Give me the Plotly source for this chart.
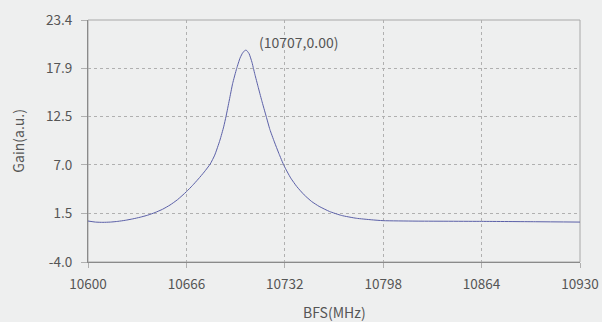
import plotly.graph_objects as go

bfs = [10600, 10605, 10610, 10615, 10620, 10625, 10630, 10635, 10640, 10645,
       10650, 10655, 10660, 10666, 10670, 10674, 10678, 10682, 10685, 10688.5,
       10691, 10692.6, 10694.8, 10697, 10699.7, 10702, 10704, 10706, 10708, 10710,
       10711, 10712, 10714, 10716.5, 10719.5, 10722, 10725, 10728, 10731.5, 10736,
       10740, 10745, 10750, 10755, 10762, 10770, 10780, 10790, 10798, 10820,
       10864, 10900, 10930]
gain = [0.64, 0.52, 0.49, 0.52, 0.6, 0.72, 0.88, 1.07, 1.3, 1.6,
        1.97, 2.45, 3.05, 3.96, 4.65, 5.4, 6.2, 7.1, 8.1, 9.8,
        11.3, 12.5, 14.34, 16.2, 17.9, 19.1, 19.75, 20.0, 19.6, 18.6,
        17.9, 17.2, 15.9, 14.3, 12.5, 11.0, 9.6, 8.3, 6.9, 5.5,
        4.55, 3.6, 2.85, 2.3, 1.72, 1.27, 0.95, 0.78, 0.68, 0.63,
        0.6, 0.56, 0.52]

x_ticks = [10600, 10666, 10732, 10798, 10864, 10930]
y_ticks = [-4.0, 1.5, 7.0, 12.5, 17.9, 23.4]
y_tick_text = ["-4.0", "1.5", "7.0", "12.5", "17.9", "23.4"]
peak_label = "(10707,0.00)"
x_title = "BFS(MHz)"
y_title = "Gain(a.u.)"

FONT = "Noto Sans CJK SC"
TXT = "#555555"

fig = go.Figure()
fig.add_trace(go.Scatter(x=bfs, y=gain, mode="lines",
                         line=dict(color="#5b60a8", width=1, shape="spline", smoothing=0.5),
                         hoverinfo="skip", showlegend=False))

fig.add_annotation(x=10741.5, y=20.9, text=peak_label, showarrow=False,
                   font=dict(family=FONT, size=14, color=TXT))

fig.add_annotation(xref="paper", yref="paper", x=0.5, y=-0.205, yanchor="middle",
                   text=x_title, showarrow=False, font=dict(family=FONT, size=14, color=TXT))
fig.add_annotation(xref="paper", yref="paper", x=-0.143, xanchor="center", y=0.5,
                   text=y_title, textangle=-90, showarrow=False,
                   font=dict(family=FONT, size=14, color=TXT))

fig.add_shape(type="rect", xref="paper", yref="paper", x0=0, y0=0, x1=1, y1=1,
              line=dict(color="#a8a8a8", width=1), layer="below")

fig.update_layout(
    width=602, height=322,
    margin=dict(l=88, r=22, t=20, b=60, autoexpand=False),
    paper_bgcolor="#eeefef", plot_bgcolor="#eeefef",
    font=dict(family=FONT, size=13, color=TXT),
    xaxis=dict(range=[10600, 10930], tickvals=x_ticks, ticktext=[str(v) for v in x_ticks],
               showgrid=True, gridcolor="#b0b0b0", griddash="dot", gridwidth=1,
               showline=True, linecolor="#8a8a8a", linewidth=1,
               ticks="outside", ticklen=5, tickcolor="#b0b0b0",
               ticklabelstandoff=5, automargin=False,
               zeroline=False, tickfont=dict(size=13.5)),
    yaxis=dict(range=[-4.0, 23.4], tickvals=y_ticks, ticktext=y_tick_text,
               showgrid=True, gridcolor="#b0b0b0", griddash="dot", gridwidth=1,
               showline=True, linecolor="#8a8a8a", linewidth=1,
               ticks="outside", ticklen=6, tickcolor="#b0b0b0",
               ticklabelstandoff=6, automargin=False,
               zeroline=False, tickfont=dict(size=13.5)),
)

fig.write_html("out.html", config={"displayModeBar": False},
               post_script="document.body.style.margin='0';document.body.style.overflow='hidden';")
